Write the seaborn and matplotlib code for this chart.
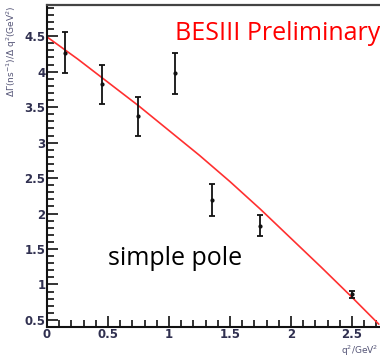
import seaborn as sns
import matplotlib.pyplot as plt
from matplotlib.ticker import MultipleLocator
import pandas as pd

# measured points
q2 = [0.15, 0.45, 0.75, 1.05, 1.35, 1.75, 2.50]
rate = [4.27, 3.82, 3.37, 3.98, 2.19, 1.83, 0.86]
rate_err = [0.29, 0.28, 0.27, 0.29, 0.23, 0.15, 0.05]

# simple pole fit curve
fit_q2 = [0.0, 0.25, 0.5, 0.75, 1.0, 1.25, 1.5, 1.75, 2.0, 2.25, 2.5, 2.72]
fit_rate = [4.49, 4.18, 3.85, 3.52, 3.17, 2.82, 2.45, 2.06, 1.65, 1.24, 0.82, 0.44]

if __name__ == "__main__":
    sns.set_theme(style="white")
    plt.rcParams['font.family'] = ['DejaVu Sans']

    fig = plt.figure(figsize=(3.8, 3.57), dpi=100)
    ax = fig.add_axes([47 / 380, 30 / 357, 333 / 380, 322 / 357])

    fit = pd.DataFrame({"q2": fit_q2, "rate": fit_rate})
    sns.lineplot(data=fit, x="q2", y="rate", color="#ff3030", linewidth=1.2, ax=ax)

    ax.errorbar(q2, rate, yerr=rate_err, fmt="o", color="#111111", markersize=2,
                elinewidth=1.3, capsize=2.5, capthick=1.3)

    ax.set_xlim(0, 2.73)
    ax.set_ylim(0.40, 4.94)
    ax.xaxis.set_major_locator(MultipleLocator(0.5))
    ax.xaxis.set_minor_locator(MultipleLocator(0.1))
    ax.yaxis.set_major_locator(MultipleLocator(0.5))
    ax.yaxis.set_minor_locator(MultipleLocator(0.1))
    ax.xaxis.set_major_formatter(plt.FuncFormatter(lambda v, p: f"{v:g}"))
    ax.yaxis.set_major_formatter(plt.FuncFormatter(lambda v, p: f"{v:g}"))

    ax.tick_params(which="both", direction="in", colors="#111111", width=1.2,
                   labelcolor="#303050", labelsize=8.5, pad=1)
    ax.tick_params(which="major", length=8)
    ax.tick_params(which="minor", length=5)
    ax.tick_params(axis="x", which="both", top=False, bottom=True)
    ax.tick_params(axis="y", which="both", left=True, right=False)
    for lab in ax.get_xticklabels() + ax.get_yticklabels():
        lab.set_fontweight("bold")

    ax.spines["right"].set_visible(False)
    ax.spines["left"].set_color("#111111")
    ax.spines["bottom"].set_color("#111111")
    ax.spines["left"].set_linewidth(1.5)
    ax.spines["bottom"].set_linewidth(1.5)
    ax.spines["top"].set_color("#444444")
    ax.spines["top"].set_linewidth(1.6)

    ax.set_xlabel("")
    ax.set_ylabel("")
    fig.text(12 / 380, 1 - 5 / 357, "ΔΓ(ns$^{-1}$)/Δ q$^2$(GeV$^2$)", rotation=90,
             ha="center", va="top", fontsize=6.5, color="#555577")
    fig.text(0.995, 1 - 351 / 357, "q$^2$/GeV$^2$", ha="right", va="center",
             fontsize=6.5, color="#555577")

    fig.text(175 / 380, 1 - 40 / 357, "BESIII Preliminary", color="red",
             fontsize=18, family=["Open Sans", "DejaVu Sans"], va="baseline")
    fig.text(108 / 380, 1 - 265 / 357, "simple pole", color="black",
             fontsize=18, family=["Open Sans", "DejaVu Sans"], va="baseline")

    fig.savefig("out.png", dpi=100)
